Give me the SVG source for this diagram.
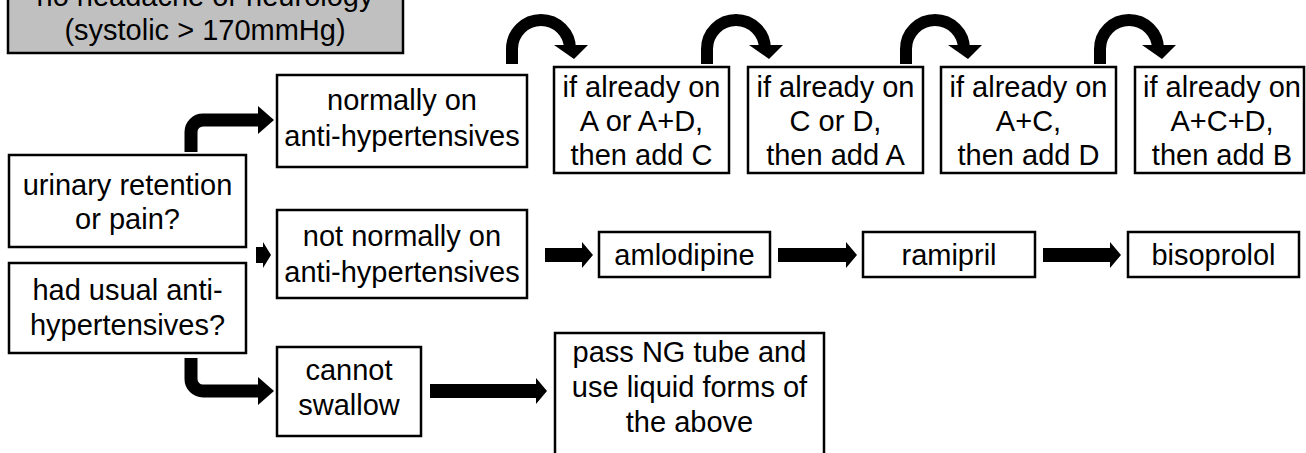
<svg xmlns="http://www.w3.org/2000/svg" width="1306" height="453" viewBox="0 0 1306 453">
<defs>
<style>
.box{fill:#fff;stroke:#000;stroke-width:2.5}
.grey{fill:#c0c0c0;stroke:#000;stroke-width:2.5}
text{font-family:"Liberation Sans",Arial,sans-serif;font-size:29px;fill:#000;text-anchor:middle}
.bar{fill:none;stroke:#000;stroke-width:13}
.arc{fill:none;stroke:#000;stroke-width:12}
.head{fill:#000}
</style>
<g id="curve">
<path class="arc" d="M512,64 V49 A29,29 0 0 1 570,49"/>
<polygon class="head" points="554,45 588,45 574,59"/>
</g>
</defs>
<rect width="1306" height="453" fill="#fff"/>

<g id="n-top">
<rect class="grey" x="8" y="-10" width="395" height="63"/>
<text x="205" y="6">no headache or neurology</text>
<text x="205" y="40">(systolic &gt; 170mmHg)</text>
</g>

<g id="n-urinary">
<rect class="box" x="9" y="155" width="237" height="92"/>
<text x="127.5" y="195">urinary retention</text>
<text x="127.5" y="229">or pain?</text>
</g>

<g id="n-usual">
<rect class="box" x="9" y="263" width="237" height="90"/>
<text x="127.5" y="300">had usual anti-</text>
<text x="127.5" y="335">hypertensives?</text>
</g>

<g id="n-normally">
<rect class="box" x="277" y="75" width="250" height="92"/>
<text x="402" y="110">normally on</text>
<text x="402" y="146">anti-hypertensives</text>
</g>

<g id="n-notnormally">
<rect class="box" x="277" y="210" width="250" height="88"/>
<text x="402" y="246">not normally on</text>
<text x="402" y="282">anti-hypertensives</text>
</g>

<g id="n-cannot">
<rect class="box" x="277" y="347" width="144" height="89"/>
<text x="349" y="380">cannot</text>
<text x="349" y="415">swallow</text>
</g>

<g id="n-ng">
<rect class="box" x="555" y="333" width="269" height="140"/>
<text x="689.5" y="362">pass NG tube and</text>
<text x="689.5" y="397">use liquid forms of</text>
<text x="689.5" y="432">the above</text>
</g>

<g id="n-addC">
<rect class="box" x="554" y="67" width="175" height="106"/>
<text x="641.5" y="97">if already on</text>
<text x="641.5" y="131">A or A+D,</text>
<text x="641.5" y="165">then add C</text>
</g>

<g id="n-addA">
<rect class="box" x="748" y="67" width="175" height="106"/>
<text x="835.5" y="97">if already on</text>
<text x="835.5" y="131">C or D,</text>
<text x="835.5" y="165">then add A</text>
</g>

<g id="n-addD">
<rect class="box" x="941" y="67" width="175" height="106"/>
<text x="1028.5" y="97">if already on</text>
<text x="1028.5" y="131">A+C,</text>
<text x="1028.5" y="165">then add D</text>
</g>

<g id="n-addB">
<rect class="box" x="1135" y="67" width="169" height="106"/>
<text x="1222" y="97">if already on</text>
<text x="1222" y="131">A+C+D,</text>
<text x="1222" y="165">then add B</text>
</g>

<g id="n-amlodipine">
<rect class="box" x="599" y="232" width="171" height="45"/>
<text x="684.5" y="265">amlodipine</text>
</g>

<g id="n-ramipril">
<rect class="box" x="863" y="232" width="172" height="45"/>
<text x="949" y="265">ramipril</text>
</g>

<g id="n-bisoprolol">
<rect class="box" x="1128" y="232" width="171" height="45"/>
<text x="1213.5" y="265">bisoprolol</text>
</g>

<g id="connectors">
<path class="bar" d="M191,152 V132 A12,12 0 0 1 203,120 H259"/>
<polygon class="head" points="258,106 274,120 258,134"/>
<path class="bar" d="M191,358 V379 A12,12 0 0 0 203,391 H259"/>
<polygon class="head" points="258,377 274,391 258,405"/>
<polygon class="head" points="256,247 263,247 263,242 271,255 263,268 263,263 256,263"/>
<polygon class="head" points="545,248 582,248 582,242 593,255 582,268 582,262 545,262"/>
<polygon class="head" points="778,248 846,248 846,242 857,255 846,268 846,262 778,262"/>
<polygon class="head" points="1043,248 1110,248 1110,242 1121,255 1110,268 1110,262 1043,262"/>
<polygon class="head" points="430,384 536,384 536,378 547,391 536,404 536,398 430,398"/>
<use href="#curve"/>
<use href="#curve" transform="translate(195,0)"/>
<use href="#curve" transform="translate(394,0)"/>
<use href="#curve" transform="translate(588,0)"/>
</g>
</svg>
